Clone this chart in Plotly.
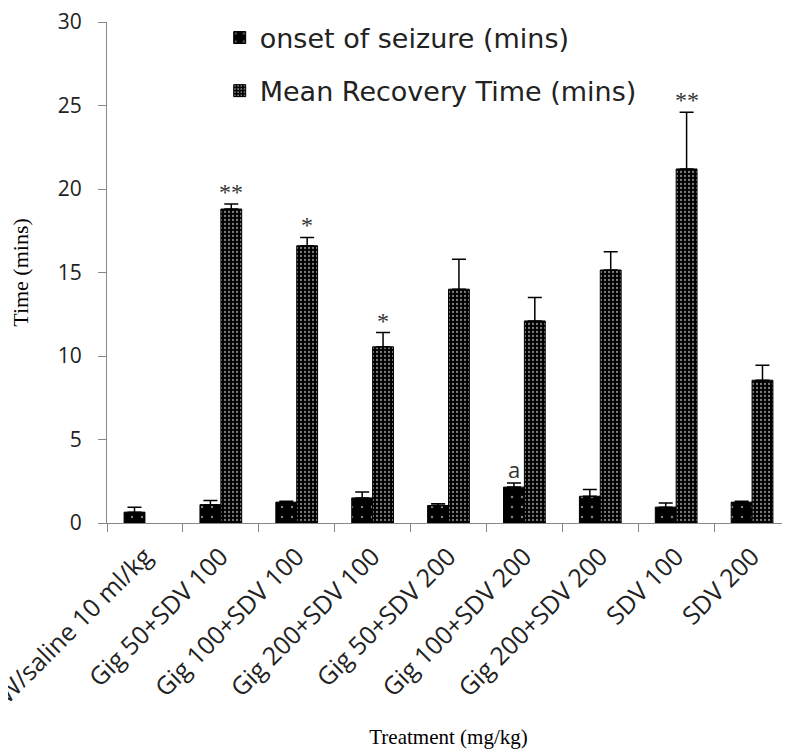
import plotly.graph_objects as go

categories = ["DW/saline 10 ml/kg", "Gig 50+SDV 100", "Gig 100+SDV 100", "Gig 200+SDV 100",
              "Gig 50+SDV 200", "Gig 100+SDV 200", "Gig 200+SDV 200", "SDV 100", "SDV 200"]
onset = [0.65, 1.1, 1.25, 1.5, 1.05, 2.15, 1.6, 0.95, 1.25]
onset_err = [0.3, 0.25, 0.05, 0.35, 0.1, 0.25, 0.4, 0.25, 0.05]
recovery = [None, 18.8, 16.6, 10.55, 14.0, 12.1, 15.15, 21.2, 8.55]
recovery_err = [0, 0.3, 0.5, 0.85, 1.8, 1.4, 1.1, 3.4, 0.9]
recovery_marks = ["", "**", "*", "*", "", "", "", "**", ""]
onset_marks = ["", "", "", "", "", "a", "", "", ""]
y_ticks = [0, 5, 10, 15, 20, 25, 30]

fig = go.Figure()
fig.add_trace(go.Bar(
    x=categories, y=onset, name="onset of seizure (mins)", legendgroup="a",
    marker=dict(color="black", line=dict(color="black", width=1),
                pattern=dict(shape=".", bgcolor="black", fgcolor="white", size=10, solidity=0.05)),
    error_y=dict(type="data", symmetric=False, array=onset_err, arrayminus=[0]*9,
                 color="black", thickness=1.5, width=7),
))
fig.add_trace(go.Bar(
    x=categories, y=recovery, name="Mean Recovery Time (mins)", legendgroup="b",
    marker=dict(color="black", line=dict(color="black", width=1),
                pattern=dict(shape=".", bgcolor="black", fgcolor="white", size=4, solidity=0.25)),
    error_y=dict(type="data", symmetric=False, array=recovery_err, arrayminus=[0]*9,
                 color="black", thickness=1.5, width=7),
))

for c, v, e, m in zip(categories, recovery, recovery_err, recovery_marks):
    if m:
        fig.add_annotation(x=c, y=v + e, text=m, showarrow=False, xshift=10.5, yshift=12,
                           font=dict(family="Liberation Serif", size=24, color="#333"))
for c, v, e, m in zip(categories, onset, onset_err, onset_marks):
    if m:
        fig.add_annotation(x=c, y=v + e, text=m, showarrow=False, xshift=-10.5, yshift=14,
                           font=dict(family="Open Sans", size=22, color="#333"))

fig.update_layout(
    width=782, height=746,
    margin=dict(l=99, r=0, t=14, b=231, autoexpand=False),
    paper_bgcolor="white", plot_bgcolor="white",
    barmode="group", bargap=0.45, bargroupgap=0,
    showlegend=True,
    legend=dict(x=0.165, y=1.017, xanchor="left", yanchor="top", tracegroupgap=15,
                bgcolor="rgba(0,0,0,0)",
                font=dict(family="DejaVu Sans", size=27, color="#222")),
    xaxis=dict(type="category", tickangle=-45, tickson="boundaries", ticks="outside",
               ticklen=8, tickcolor="#888", showline=True, linecolor="#888", linewidth=1,
               automargin=False, ticklabelstandoff=8,
               tickfont=dict(family="Open Sans", size=25, color="#222"),
               title=dict(text="Treatment (mg/kg)", standoff=7,
                          font=dict(family="Liberation Serif", size=21, color="black"))),
    yaxis=dict(range=[0, 30], tickvals=y_ticks, ticks="outside", ticklen=8, tickcolor="#888",
               showline=True, linecolor="#888", linewidth=1, showgrid=False, zeroline=False,
               automargin=False, ticklabelstandoff=12, ticklabeloverflow="allow",
               tickfont=dict(family="Open Sans", size=21, color="#222"),
               title=dict(text="Time (mins)", standoff=24,
                          font=dict(family="Liberation Serif", size=22, color="black"))),
)

fig.write_html("out.html")
